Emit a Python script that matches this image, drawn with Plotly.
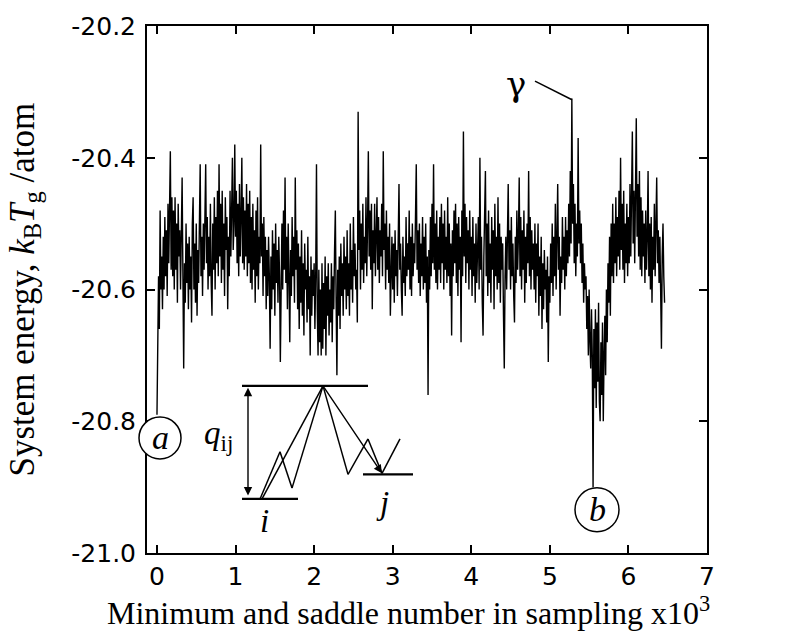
import numpy as np
import plotly.graph_objects as go

# ---- data (system energy, one value every 10 samples) ----
sample_step_k = 0.01  # thousands of samples between listed values
energy = [
    -20.79, -20.70, -20.58, -20.66, -20.48, -20.60, -20.55, -20.63, -20.52, -20.60, -20.49, -20.58, -20.51, -20.61, -20.47, -20.56, -20.50, -20.39, -20.57, -20.46,
    -20.58, -20.48, -20.60, -20.46, -20.57, -20.50, -20.62, -20.47, -20.55, -20.51, -20.60, -20.48, -20.43, -20.58, -20.72, -20.56, -20.62, -20.50, -20.59, -20.53,
    -20.63, -20.52, -20.60, -20.55, -20.65, -20.50, -20.46, -20.60, -20.53, -20.62, -20.50, -20.64, -20.54, -20.59, -20.49, -20.41, -20.58, -20.52, -20.61, -20.50,
    -20.57, -20.48, -20.41, -20.56, -20.49, -20.60, -20.52, -20.58, -20.47, -20.59, -20.64, -20.50, -20.57, -20.46, -20.60, -20.49, -20.56, -20.45, -20.58, -20.41,
    -20.55, -20.47, -20.59, -20.45, -20.57, -20.50, -20.61, -20.46, -20.54, -20.49, -20.63, -20.52, -20.58, -20.45, -20.55, -20.48, -20.40, -20.54, -20.50, -20.38,
    -20.52, -20.45, -20.56, -20.47, -20.58, -20.44, -20.55, -20.49, -20.40, -20.56, -20.46, -20.57, -20.48, -20.55, -20.44, -20.58, -20.47, -20.56, -20.45, -20.59,
    -20.49, -20.60, -20.47, -20.57, -20.51, -20.62, -20.48, -20.58, -20.46, -20.60, -20.52, -20.56, -20.38, -20.55, -20.50, -20.61, -20.49, -20.58, -20.52, -20.63,
    -20.54, -20.61, -20.52, -20.58, -20.69, -20.55, -20.63, -20.51, -20.60, -20.53, -20.64, -20.50, -20.59, -20.54, -20.62, -20.52, -20.58, -20.71, -20.57, -20.50,
    -20.60, -20.48, -20.57, -20.43, -20.59, -20.52, -20.63, -20.50, -20.58, -20.68, -20.54, -20.61, -20.49, -20.58, -20.52, -20.62, -20.43, -20.57, -20.51, -20.63,
    -20.53, -20.66, -20.55, -20.62, -20.51, -20.64, -20.56, -20.67, -20.53, -20.60, -20.57, -20.65, -20.52, -20.63, -20.58, -20.70, -20.55, -20.64, -20.57, -20.61,
    -20.56, -20.66, -20.58, -20.41, -20.63, -20.70, -20.57, -20.68, -20.60, -20.70, -20.56, -20.69, -20.59, -20.66, -20.55, -20.70, -20.58, -20.64, -20.56, -20.67,
    -20.60, -20.65, -20.56, -20.68, -20.58, -20.63, -20.54, -20.48, -20.62, -20.73, -20.57, -20.64, -20.55, -20.66, -20.53, -20.61, -20.56, -20.64, -20.52, -20.60,
    -20.55, -20.63, -20.51, -20.61, -20.56, -20.64, -20.50, -20.60, -20.54, -20.62, -20.49, -20.58, -20.53, -20.60, -20.57, -20.65, -20.33, -20.54, -20.48, -20.60,
    -20.50, -20.57, -20.47, -20.59, -20.52, -20.56, -20.46, -20.58, -20.50, -20.39, -20.55, -20.48, -20.57, -20.47, -20.63, -20.51, -20.56, -20.47, -20.58, -20.50,
    -20.46, -20.57, -20.49, -20.59, -20.51, -20.55, -20.47, -20.58, -20.39, -20.54, -20.50, -20.60, -20.48, -20.57, -20.52, -20.59, -20.50, -20.64, -20.55, -20.52,
    -20.60, -20.53, -20.62, -20.51, -20.58, -20.54, -20.61, -20.50, -20.44, -20.57, -20.53, -20.60, -20.64, -20.52, -20.59, -20.55, -20.61, -20.49, -20.58, -20.53,
    -20.57, -20.48, -20.60, -20.52, -20.61, -20.50, -20.58, -20.53, -20.56, -20.49, -20.41, -20.57, -20.51, -20.59, -20.50, -20.61, -20.53, -20.58, -20.49, -20.60,
    -20.52, -20.59, -20.50, -20.62, -20.55, -20.76, -20.54, -20.60, -20.49, -20.58, -20.47, -20.56, -20.41, -20.57, -20.50, -20.59, -20.48, -20.60, -20.52, -20.57,
    -20.49, -20.59, -20.47, -20.56, -20.50, -20.60, -20.48, -20.57, -20.52, -20.59, -20.46, -20.58, -20.50, -20.61, -20.53, -20.67, -20.51, -20.58, -20.48, -20.56,
    -20.47, -20.59, -20.50, -20.61, -20.49, -20.57, -20.52, -20.68, -20.48, -20.58, -20.36, -20.55, -20.47, -20.59, -20.49, -20.56, -20.51, -20.60, -20.48, -20.57,
    -20.52, -20.61, -20.49, -20.58, -20.53, -20.62, -20.50, -20.59, -20.54, -20.49, -20.60, -20.40, -20.57, -20.52, -20.62, -20.67, -20.55, -20.50, -20.42, -20.58,
    -20.50, -20.61, -20.48, -20.59, -20.53, -20.62, -20.49, -20.57, -20.51, -20.63, -20.47, -20.58, -20.52, -20.60, -20.46, -20.59, -20.50, -20.62, -20.52, -20.57,
    -20.53, -20.64, -20.72, -20.58, -20.52, -20.60, -20.50, -20.44, -20.57, -20.51, -20.60, -20.49, -20.58, -20.53, -20.61, -20.65, -20.52, -20.59, -20.48, -20.57,
    -20.52, -20.43, -20.58, -20.49, -20.60, -20.51, -20.57, -20.48, -20.62, -20.52, -20.59, -20.50, -20.56, -20.42, -20.58, -20.49, -20.60, -20.51, -20.57, -20.53,
    -20.60, -20.50, -20.62, -20.53, -20.58, -20.50, -20.64, -20.55, -20.61, -20.52, -20.66, -20.56, -20.63, -20.54, -20.60, -20.57, -20.65, -20.55, -20.71, -20.58,
    -20.62, -20.53, -20.59, -20.50, -20.61, -20.52, -20.58, -20.47, -20.60, -20.51, -20.44, -20.57, -20.52, -20.64, -20.55, -20.59, -20.49, -20.57, -20.52, -20.60,
    -20.49, -20.58, -20.51, -20.56, -20.47, -20.55, -20.42, -20.53, -20.31, -20.50, -20.44, -20.56, -20.47, -20.58, -20.50, -20.55, -20.37, -20.53, -20.48, -20.56,
    -20.50, -20.59, -20.53, -20.62, -20.56, -20.60, -20.58, -20.66, -20.61, -20.70, -20.60, -20.68, -20.72, -20.63, -20.70, -20.90, -20.66, -20.75, -20.63, -20.78,
    -20.65, -20.74, -20.62, -20.77, -20.80, -20.68, -20.76, -20.65, -20.80, -20.70, -20.64, -20.73, -20.60, -20.68, -20.56, -20.62, -20.52, -20.64, -20.50, -20.58,
    -20.47, -20.59, -20.50, -20.56, -20.46, -20.58, -20.49, -20.55, -20.45, -20.57, -20.40, -20.54, -20.47, -20.57, -20.45, -20.59, -20.50, -20.56, -20.47, -20.58,
    -20.49, -20.56, -20.44, -20.55, -20.47, -20.36, -20.53, -20.45, -20.56, -20.43, -20.34, -20.52, -20.44, -20.55, -20.42, -20.57, -20.46, -20.58, -20.48, -20.55,
    -20.50, -20.59, -20.48, -20.57, -20.52, -20.42, -20.58, -20.50, -20.60, -20.49, -20.62, -20.52, -20.57, -20.47, -20.58, -20.50, -20.43, -20.56, -20.51, -20.59,
    -20.52, -20.60, -20.69, -20.55, -20.50, -20.58, -20.62,
]
sample_k = np.arange(len(energy)) * sample_step_k

x_tick_vals = [0, 1, 2, 3, 4, 5, 6, 7]
x_tick_text = ["0", "1", "2", "3", "4", "5", "6", "7"]
y_tick_vals = [-21.0, -20.8, -20.6, -20.4, -20.2]
y_tick_text = ["-21.0", "-20.8", "-20.6", "-20.4", "-20.2"]

# ---- figure ----
W, H = 785, 631
ML, MR, MT, MB = 147, 78, 17, 78
PW, PH = W - ML - MR, H - MT - MB

def px_to_paper(px, py):
    return (px - ML) / PW, (H - MB - py) / PH

fig = go.Figure()
fig.add_trace(go.Scatter(
    x=sample_k, y=energy, mode="lines",
    line=dict(color="black", width=1.4), hoverinfo="skip", showlegend=False,
))

serif = "Liberation Serif, Times New Roman, serif"
sans = "DejaVu Sans, Arial, sans-serif"

axis_common = dict(
    showgrid=False, zeroline=False, showline=True, linecolor="black", linewidth=2,
    mirror="ticks", ticks="inside", ticklen=8, tickwidth=1.5, tickcolor="black",
    tickfont=dict(family=sans, size=25, color="black"),
)
fig.update_xaxes(range=[-0.127, 7.0], tickmode="array", tickvals=x_tick_vals,
                 ticktext=x_tick_text, ticklabelstandoff=0, **axis_common)
fig.update_yaxes(range=[-21.0, -20.2], tickmode="array", tickvals=y_tick_vals,
                 ticktext=y_tick_text, ticklabelstandoff=4, **axis_common)

shapes = []
annotations = []

# axis titles
tx, ty = px_to_paper(408, 612)
annotations.append(dict(
    xref="paper", yref="paper", x=tx, y=ty, xanchor="center", yanchor="middle",
    text="Minimum and saddle number in sampling x10<sup>3</sup>", showarrow=False,
    font=dict(family=serif, size=32, color="black")))
tx, ty = px_to_paper(24, 285)
annotations.append(dict(
    xref="paper", yref="paper", x=tx, y=ty, xanchor="center", yanchor="middle",
    textangle=-90, showarrow=False,
    text="System energy, <i>k</i><sub>B</sub><i>T</i><sub>g</sub> /atom",
    font=dict(family=serif, size=35, color="black")))

# circled labels a and b
for (cx, cy, r, lab) in [(160, 436, 21, "a"), (597, 509, 22, "b")]:
    ax_, ay_ = px_to_paper(cx, cy)
    shapes.append(dict(type="circle", xref="paper", yref="paper",
                       xsizemode="pixel", ysizemode="pixel",
                       xanchor=ax_, yanchor=ay_, x0=-r, x1=r, y0=-r, y1=r,
                       line=dict(color="black", width=1.5), fillcolor="white",
                       layer="above"))
    annotations.append(dict(xref="paper", yref="paper", x=ax_, y=ay_,
                            xanchor="center", yanchor="middle", showarrow=False,
                            text="<i>%s</i>" % lab,
                            font=dict(family=serif, size=34, color="black")))

# gamma marker
gx, gy = px_to_paper(516, 76)
annotations.append(dict(xref="paper", yref="paper", x=gx, y=gy, xanchor="center",
                        yanchor="middle", showarrow=False, text="γ",
                        font=dict(family="DejaVu Serif, serif", size=34, color="black")))
x0p, y0p = px_to_paper(535, 73)
x1p, y1p = px_to_paper(572, 92)
shapes.append(dict(type="line", xref="paper", yref="paper", x0=x0p, y0=y0p,
                   x1=x1p, y1=y1p, line=dict(color="black", width=1.5)))

# inset schematic (pixel positions of the sketch)
sketch_lines = [
    [(242, 383), (368, 383)],
    [(242, 498), (298, 498)],
    [(363, 473), (413, 473)],
]
sketch_paths = [
    [(260, 498), (280, 450), (292, 487), (323, 383)],
    [(262, 498), (323, 383)],
    [(323, 383), (348, 473), (368, 437), (382, 472), (400, 437)],
]
for seg in sketch_lines:
    (a, b), (c, d) = px_to_paper(*seg[0]), px_to_paper(*seg[1])
    shapes.append(dict(type="line", xref="paper", yref="paper", x0=a, y0=b, x1=c, y1=d,
                       line=dict(color="black", width=2.2)))
for path in sketch_paths:
    pts = [px_to_paper(*p) for p in path]
    for p, q in zip(pts[:-1], pts[1:]):
        shapes.append(dict(type="line", xref="paper", yref="paper", x0=p[0], y0=p[1],
                           x1=q[0], y1=q[1], line=dict(color="black", width=1.5)))

# arrows: double arrow q_ij and arrow to j
def arrow(head, tail, both=False):
    hx, hy = px_to_paper(*head)
    tx2, ty2 = px_to_paper(*tail)
    return dict(xref="x domain", yref="y domain", x=hx, y=hy,
                axref="x domain", ayref="y domain", ax=tx2, ay=ty2, text="",
                showarrow=True, arrowhead=2, arrowside="end+start" if both else "end",
                arrowsize=1.2, arrowwidth=1.4, arrowcolor="black", standoff=0,
                startstandoff=0)

annotations.append(arrow((248, 385), (248, 496), both=True))
annotations.append(arrow((382, 472), (323, 383)))

for (lx, ly, txt) in [(218, 433, "<i>q</i><sub>ij</sub>"), (264, 520, "<i>i</i>"),
                      (382, 502, "<i>j</i>")]:
    px_, py_ = px_to_paper(lx, ly)
    annotations.append(dict(xref="paper", yref="paper", x=px_, y=py_, xanchor="center",
                            yanchor="middle", showarrow=False, text=txt,
                            font=dict(family=serif, size=33, color="black")))

fig.update_layout(
    width=W, height=H, margin=dict(l=ML, r=MR, t=MT, b=MB, pad=0),
    paper_bgcolor="white", plot_bgcolor="white",
    shapes=shapes, annotations=annotations, showlegend=False,
)
fig.write_html("out.html")
